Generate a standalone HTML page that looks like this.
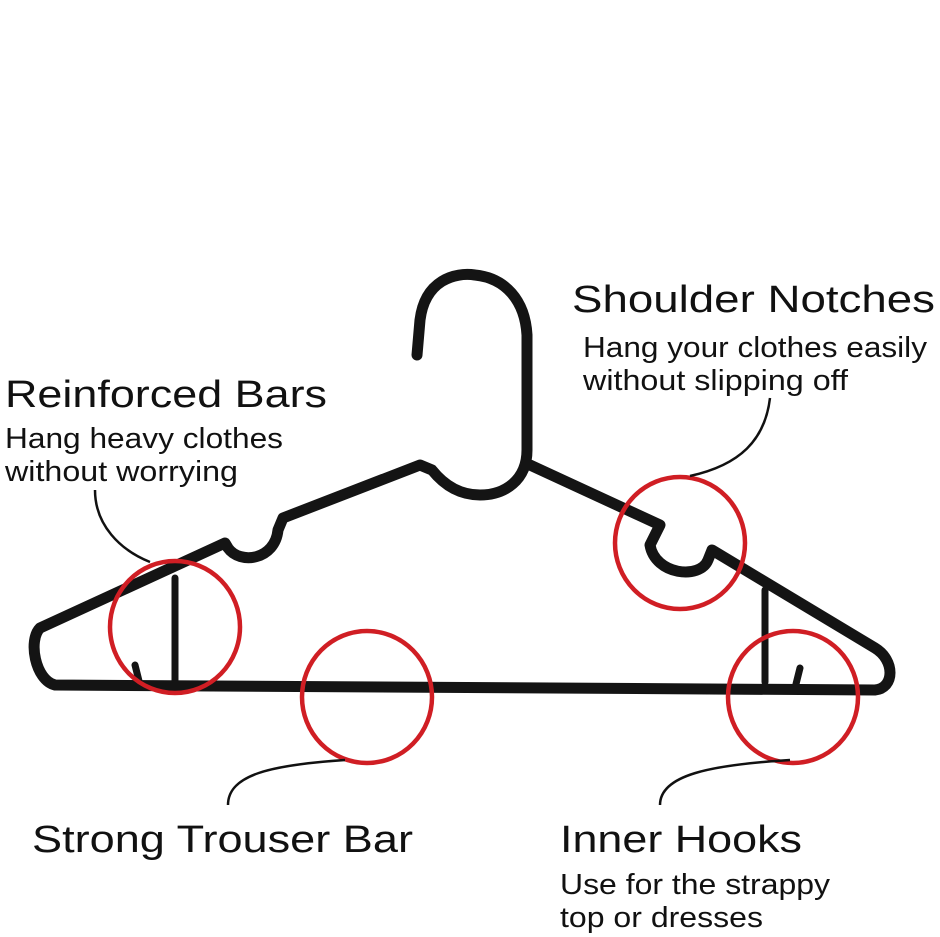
<!DOCTYPE html>
<html><head><style>
body{margin:0;background:#fff;}
svg{display:block}
text{font-family:"Liberation Sans",sans-serif;fill:#111}
.t{font-size:38px}
.d{font-size:29px}
</style></head><body>
<svg width="940" height="937" viewBox="0 0 940 937">
<g fill="none" stroke="#141414" stroke-linecap="round" stroke-linejoin="round">
<path d="M417,355 L420,320 C425,280 455,272 475,275 C505,278 525,300 527,335 L527,450 C527,480 505,495 480,495 C455,495 440,480 432,470 L420,465 L283,518 L278,530 C275,560 240,565 228,548 L225,543 L40,628 C28,640 35,680 55,685 L875,690 C895,688 895,660 875,648 L712,550 L708,560 C700,580 655,575 650,545 L660,525 L530,465" stroke-width="11"/>
<path d="M175,578 L175,685 M765,590 L765,682 M135,665 L140,685 M800,668 L796,684" stroke-width="7"/>
</g>
<g fill="none" stroke="#d01e24" stroke-width="4.5">
<ellipse cx="175" cy="627" rx="65" ry="66"/>
<ellipse cx="680" cy="543" rx="65" ry="66"/>
<ellipse cx="367" cy="697" rx="65" ry="66"/>
<ellipse cx="793" cy="697" rx="65" ry="66"/>
</g>
<g fill="none" stroke="#111" stroke-width="2.5">
<path d="M95,490 C95,525 120,550 150,562"/>
<path d="M770,398 C765,440 740,465 690,476"/>
<path d="M228,805 C228,775 270,765 345,760"/>
<path d="M660,805 C660,775 710,765 790,760"/>
</g>
<text class="t" x="5" y="407" textLength="322" lengthAdjust="spacingAndGlyphs">Reinforced Bars</text>
<text class="d" x="5" y="448" textLength="278" lengthAdjust="spacingAndGlyphs">Hang heavy clothes</text>
<text class="d" x="5" y="481" textLength="233" lengthAdjust="spacingAndGlyphs">without worrying</text>
<text class="t" x="572" y="312" textLength="363" lengthAdjust="spacingAndGlyphs">Shoulder Notches</text>
<text class="d" x="583" y="357" textLength="344" lengthAdjust="spacingAndGlyphs">Hang your clothes easily</text>
<text class="d" x="583" y="390" textLength="265" lengthAdjust="spacingAndGlyphs">without slipping off</text>
<text class="t" x="32" y="852" textLength="381" lengthAdjust="spacingAndGlyphs">Strong Trouser Bar</text>
<text class="t" x="560" y="852" textLength="242" lengthAdjust="spacingAndGlyphs">Inner Hooks</text>
<text class="d" x="560" y="894" textLength="270" lengthAdjust="spacingAndGlyphs">Use for the strappy</text>
<text class="d" x="560" y="927" textLength="203" lengthAdjust="spacingAndGlyphs">top or dresses</text>
</svg>
</body></html>
